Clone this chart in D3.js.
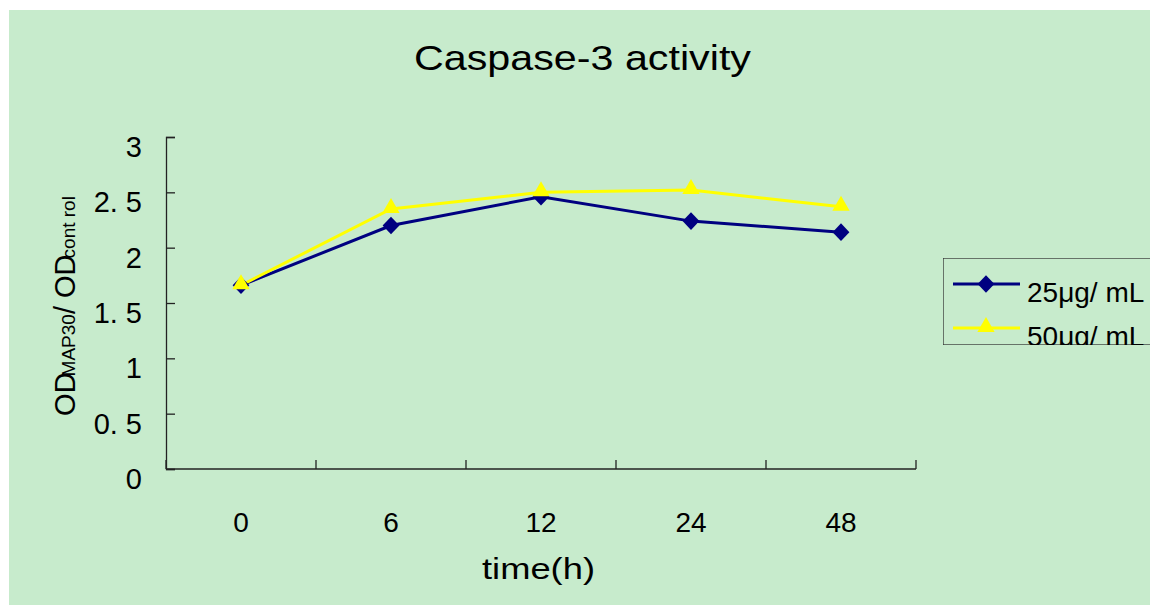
<!DOCTYPE html>
<html>
<head>
<meta charset="utf-8">
<script src="https://cdn.jsdelivr.net/npm/d3@7"></script>
<style>
  html, body { margin: 0; padding: 0; background: #ffffff; }
  svg { display: block; }
  text { font-family: "Liberation Sans", Arial, sans-serif; fill: #000; }
</style>
</head>
<body>
<svg id="chart" width="1150" height="605"></svg>
<script>
// ---- data ----
const categories = ["0", "6", "12", "24", "48"];
const seriesNames = ["25μg/ mL", "50μg/ mL"];
const values25 = [1.66, 2.20, 2.46, 2.24, 2.14];
const values50 = [1.66, 2.35, 2.50, 2.52, 2.37];
const yTickValues = [0, 0.5, 1, 1.5, 2, 2.5, 3];
const yTickLabels = ["0", "0. 5", "1", "1. 5", "2", "2. 5", "3"];
const titleText = "Caspase-3 activity";
const xTitleText = "time(h)";

const colors = ["#000080", "#FFFF00"];

const svg = d3.select("#chart");

// background panel
svg.append("rect").attr("x", 9).attr("y", 10).attr("width", 1141).attr("height", 595).attr("fill", "#c7ebcc");

const x = d3.scaleBand().domain(categories).range([166, 916]).paddingInner(0).paddingOuter(0);
const y = d3.scaleLinear().domain([0, 3]).range([469, 137]);

// title
svg.append("text").attr("x", 414).attr("y", 70)
  .attr("textLength", 337).attr("lengthAdjust", "spacingAndGlyphs")
  .style("font-size", "35px").text(titleText);

// y axis
const yAxis = d3.axisRight(y).tickValues(yTickValues).tickSize(9).tickFormat("");
const gy = svg.append("g").attr("transform", "translate(166,0)").call(yAxis);
gy.select(".domain").attr("stroke", "#222").attr("stroke-width", 1.3);
gy.selectAll(".tick line").attr("stroke", "#222").attr("stroke-width", 1.3);

svg.append("g").selectAll("text").data(yTickValues).join("text")
  .attr("x", 142).attr("y", d => y(d) + 20)
  .attr("text-anchor", "end").style("font-size", "29px")
  .text((d, i) => yTickLabels[i]);

// x axis
const xBounds = categories.map(c => x(c)).concat([x.range()[1]]);
const gx = svg.append("g");
gx.append("line").attr("x1", x.range()[0]).attr("x2", x.range()[1])
  .attr("y1", y(0)).attr("y2", y(0)).attr("stroke", "#222").attr("stroke-width", 1.3);
gx.selectAll("line.tk").data(xBounds).join("line").attr("class", "tk")
  .attr("x1", d => d).attr("x2", d => d).attr("y1", y(0)).attr("y2", y(0) - 9)
  .attr("stroke", "#222").attr("stroke-width", 1.3);
gx.selectAll("text").data(categories).join("text")
  .attr("x", d => x(d) + x.bandwidth() / 2).attr("y", 532)
  .attr("text-anchor", "middle").style("font-size", "28px")
  .text(d => d);

// x title
svg.append("text").attr("x", 482).attr("y", 579)
  .attr("textLength", 113).attr("lengthAdjust", "spacingAndGlyphs")
  .style("font-size", "29px").text(xTitleText);

// y title
const yt = svg.append("text").attr("transform", "translate(75,306) rotate(-90)")
  .attr("text-anchor", "middle").style("font-size", "29px");
yt.append("tspan").text("OD");
yt.append("tspan").style("font-size", "19px").attr("dx", -4).text("MAP30");
yt.append("tspan").text("/ OD");
yt.append("tspan").style("font-size", "19px").attr("dx", -4).text("cont rol");

// lines
const line = d3.line().x((d, i) => x(categories[i]) + x.bandwidth() / 2).y(d => y(d));
const allSeries = [values25, values50];
const sym = [d3.symbolDiamond2, d3.symbolTriangle];
const symSize = [180, 130];
const symScale = ["scale(1,1.05)", "translate(0,-1)"];

allSeries.forEach((vals, si) => {
  svg.append("path").datum(vals).attr("d", line)
    .attr("fill", "none").attr("stroke", colors[si]).attr("stroke-width", 3);
});
allSeries.forEach((vals, si) => {
  svg.append("g").selectAll("path").data(vals).join("path")
    .attr("transform", (d, i) => `translate(${x(categories[i]) + x.bandwidth() / 2},${y(d)}) ${symScale[si]}`)
    .attr("d", d3.symbol().type(sym[si]).size(symSize[si]))
    .attr("fill", colors[si]);
});

// legend
const defs = svg.append("defs");
defs.append("clipPath").attr("id", "legclip").append("rect")
  .attr("x", 943).attr("y", 258).attr("width", 220).attr("height", 87);
const leg = svg.append("g").attr("clip-path", "url(#legclip)");
leg.append("rect").attr("x", 943).attr("y", 258).attr("width", 230).attr("height", 87)
  .attr("fill", "none").attr("stroke", "#333").attr("stroke-width", 1.3);
seriesNames.forEach((name, si) => {
  const ly = 284 + si * 44;
  leg.append("line").attr("x1", 953).attr("x2", 1020).attr("y1", ly).attr("y2", ly)
    .attr("stroke", colors[si]).attr("stroke-width", 3);
  leg.append("path")
    .attr("transform", `translate(986,${ly}) ${symScale[si]}`)
    .attr("d", d3.symbol().type(sym[si]).size(symSize[si]))
    .attr("fill", colors[si]);
  leg.append("text").attr("x", 1027).attr("y", ly + 18)
    .style("font-size", "28px").text(name);
});
</script>
</body>
</html>
